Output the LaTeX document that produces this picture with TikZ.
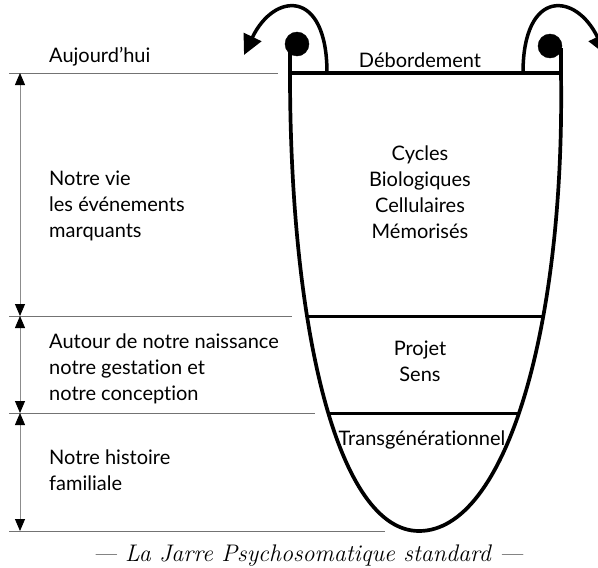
\documentclass[tikz,border=0pt]{standalone}
\usepackage{fontspec}
\newfontfamily\jarfont{Lato}[Ligatures=NoCommon]
\usetikzlibrary{arrows.meta,intersections}

\tikzset{
jar/.style={line width=3.7pt},
cut/.style={line width=3pt},
lab/.style={anchor=west,align=left,inner sep=0pt},
inlab/.style={align=center,inner sep=0pt},
gline/.style={draw=black!55,line width=0.8pt},
span/.style={draw=black!45,line width=0.8pt,
{Triangle[length=12pt,width=10pt,color=black]}-{Triangle[length=12pt,width=10pt,color=black]}},
loop/.style={line width=3.5pt,-{Triangle[length=20pt,width=19pt]}}
}

\begin{document}
\begin{tikzpicture}[x=1pt,y=-1pt,font=\jarfont\fontsize{20}{26}\selectfont]
\useasboundingbox (0,0) rectangle (598,568);

% la jarre
\draw[jar,name path=jar] (290,46) -- (290,73)
.. controls (290,330) and (338,531) .. (419,531)
.. controls (505,531) and (565,330) .. (561,73) -- (561,48);
\draw[jar] (290,73) -- (561,73);

\path[name path=h1] (250,316) -- (600,316);
\path[name path=h2] (250,413) -- (600,413);
\draw[cut,name intersections={of=jar and h1}] (intersection-1) -- (intersection-2);
\draw[cut,name intersections={of=jar and h2}] (intersection-1) -- (intersection-2);

\node[draw,circle,fill,inner sep=0pt,minimum size=24pt](dotl) at (297,44){};
\node[draw,circle,fill,inner sep=0pt,minimum size=24pt](dotr) at (550,46){};

\coordinate (ll) at (327,73);
\coordinate (lr) at (523,73);
\coordinate (tl) at (244,55);
\coordinate (tr) at (606,55);
\draw[loop] (ll) .. controls (327,-12) and (274,-8) .. (tl);
\draw[loop] (lr) .. controls (523,-12) and (576,-8) .. (tr);

% les repères
\draw[gline] (9,73) -- (278,73);
\draw[gline] (9,316) -- (292,316);
\draw[gline] (9,413) -- (315,413);
\draw[gline] (9,531) -- (385,531);

\coordinate (a0) at (20,73);
\coordinate (a1) at (20,316);
\coordinate (a2) at (20,413);
\coordinate (a3) at (20,531);
\draw[span] (a0) -- (a1);
\draw[span] (a1) -- (a2);
\draw[span] (a2) -- (a3);

\node[lab] (auj) at (49,57){Aujourd’hui};
\node[lab] (vie) at (49,206){Notre vie\\les événements\\marquants};
\node[lab] (nais) at (49,369){Autour de notre naissance\\notre gestation et\\notre conception};
\node[lab] (fam) at (49,470){Notre histoire\\familiale};

\node[inlab] (deb) at (420,60){Débordement};
\node[inlab] (cycles) at (420,192){Cycles\\Biologiques\\Cellulaires\\Mémorisés};
\node[inlab] (projet) at (420,361){Projet\\Sens};
\node[inlab] (trans) at (422,440){Transgénérationnel};

\node[] (legende) at (308,556){\normalfont\itshape\fontsize{24}{28}\selectfont --- La Jarre Psychosomatique standard ---};
\end{tikzpicture}
\end{document}
